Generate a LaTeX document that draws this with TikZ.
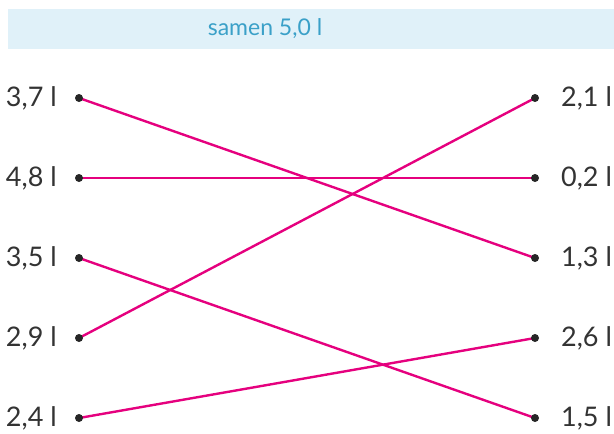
\documentclass[tikz,border=0pt]{standalone}
\usepackage{fontspec}
\setmainfont{Lato}
\usetikzlibrary{positioning}
\definecolor{bandblue}{HTML}{E0F1F9}
\definecolor{titleblue}{HTML}{3AA0C8}
\definecolor{linkpink}{HTML}{E5007E}
\definecolor{textgray}{HTML}{333333}
\tikzset{
  dot/.style={circle, fill=black!85, inner sep=0pt, minimum size=8pt},
  amount/.style={text=textgray, font=\fontsize{27}{30}\selectfont, inner sep=0pt},
  link/.style={linkpink, line width=2.4pt}
}
\begin{document}
\begin{tikzpicture}[x=1pt, y=-1pt]
  \useasboundingbox (0,0) rectangle (614,434);
  % header band
  \fill[bandblue] (8,9) rectangle (614,49);
  \node[text=titleblue, font=\fontsize{23}{26}\selectfont] (title) at (265,29) {samen 5,0 l};

  % end points, left and right
  \foreach \name/\y in {l1/98, l2/178, l3/258, l4/338, l5/418}
    \coordinate (\name) at (79,\y);
  \foreach \name/\y in {r1/98, r2/178, r3/258, r4/338, r5/418}
    \coordinate (\name) at (535,\y);

  % connections
  \draw[link] (l1) -- (r3);
  \draw[link] (l2) -- (r2);
  \draw[link] (l3) -- (r5);
  \draw[link] (l4) -- (r1);
  \draw[link] (l5) -- (r4);

  % dots and amounts
  \foreach \name/\val in {l1/{3,7}, l2/{4,8}, l3/{3,5}, l4/{2,9}, l5/{2,4}} {
    \node[dot] (\name-d) at (\name) {};
    \node[amount, left=22pt of \name-d.center] (\name-t) {\val\hspace{7pt}l};
  }
  \foreach \name/\val in {r1/{2,1}, r2/{0,2}, r3/{1,3}, r4/{2,6}, r5/{1,5}} {
    \node[dot] (\name-d) at (\name) {};
    \node[amount, right=26pt of \name-d.center] (\name-t) {\val\hspace{7pt}l};
  }
\end{tikzpicture}
\end{document}
